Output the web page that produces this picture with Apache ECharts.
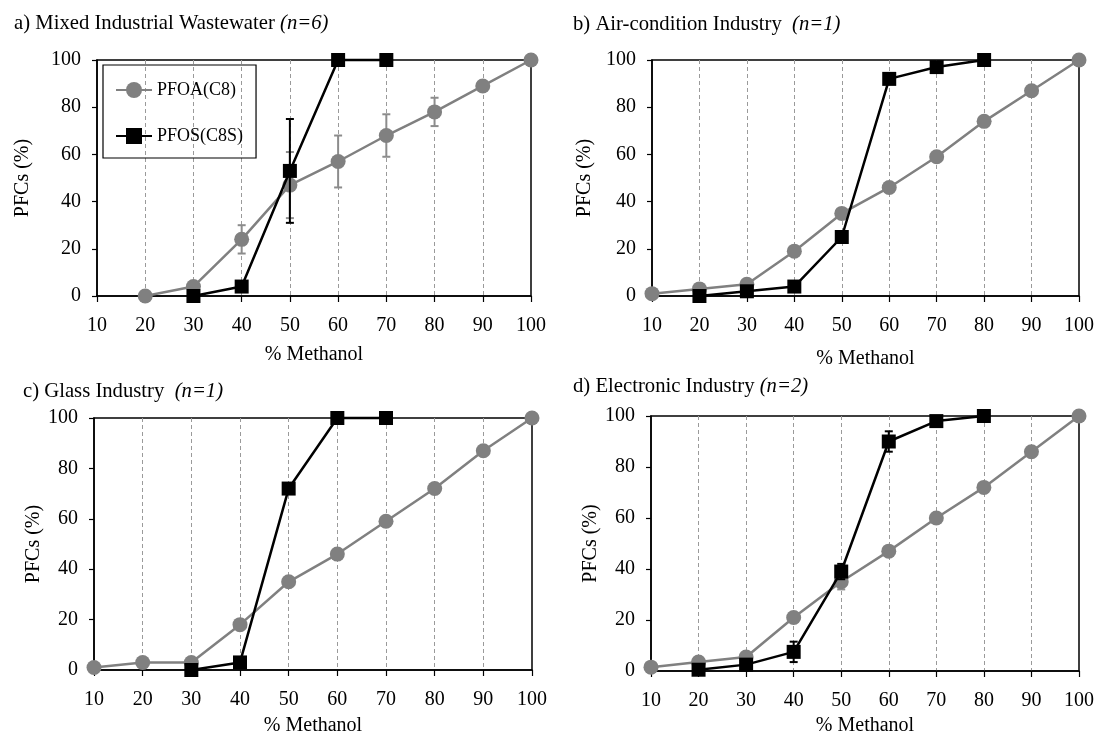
<!DOCTYPE html>
<html>
<head>
<meta charset="utf-8">
<title>PFCs vs % Methanol</title>
<script src="https://cdn.jsdelivr.net/npm/echarts@6/dist/echarts.min.js"></script>
<style>
  html, body { margin: 0; padding: 0; background: #fff; }
  #chart { width: 1097px; height: 737px; }
</style>
</head>
<body>
<div id="chart"></div>
<script>
// % methanol steps (x axis)
var methanol = [10, 20, 30, 40, 50, 60, 70, 80, 90, 100];
var yTicks = [0, 20, 40, 60, 80, 100];

var panelTitles = ['a) Mixed Industrial Wastewater ', 'b) Air-condition Industry  ', 'c) Glass Industry  ', 'd) Electronic Industry '];
var panelN = ['(n=6)', '(n=1)', '(n=1)', '(n=2)'];
var seriesNames = ['PFOA(C8)', 'PFOS(C8S)'];

// a) Mixed Industrial Wastewater
var pfoaA    = [null, 0, 4, 24, 47, 57, 68, 78, 89, 100];
var pfoaErrA = [null, 0, 1, 6, 14, 11, 9, 6, 2, 0];
var pfosA    = [null, null, 0, 4, 53, 100, 100, null, null, null];
var pfosErrA = [null, null, 0, 0, 22, 0, 0, null, null, null];

// b) Air-condition Industry
var pfoaB = [1, 3, 5, 19, 35, 46, 59, 74, 87, 100];
var pfosB = [null, 0, 2, 4, 25, 92, 97, 100, null, null];

// c) Glass Industry
var pfoaC = [1, 3, 3, 18, 35, 46, 59, 72, 87, 100];
var pfosC = [null, null, 0, 3, 72, 100, 100, null, null, null];

// d) Electronic Industry
var pfoaD    = [1.5, 3.5, 5.5, 21, 35, 47, 60, 72, 86, 100];
var pfoaErrD = [0, 0, 0, 0, 3, 1, 0, 0, 0, 0];
var pfosD    = [null, 0.5, 2.5, 7.5, 39, 90, 98, 100, null, null];
var pfosErrD = [null, 0, 0, 4, 3, 4, 2, 0, null, null];

var pfoaAll = [pfoaA, pfoaB, pfoaC, pfoaD];
var pfosAll = [pfosA, pfosB, pfosC, pfosD];
var pfoaErrAll = [pfoaErrA, null, null, pfoaErrD];
var pfosErrAll = [pfosErrA, null, null, pfosErrD];

var FONT = 'Liberation Serif';
var GRAY = '#808080';

var grids = [
  {left: 97, top: 60, width: 434, height: 236},
  {left: 652, top: 60, width: 428, height: 236},
  {left: 94, top: 418, width: 438, height: 256},
  {left: 651, top: 416, width: 428, height: 256}
];
var titlePos = [[14, 13], [573, 14], [23, 381], [573, 376]];
var xNameGap = [49, 53, 46, 45];
var yNameGap = [64, 57, 48, 46];

function toPairs(vals) {
  var out = [];
  vals.forEach(function (v, i) {
    if (v != null) out.push([methanol[i], v]);
  });
  return out;
}
function toErr(vals, errs) {
  var out = [];
  if (!errs) return out;
  vals.forEach(function (v, i) {
    if (v != null && errs[i]) out.push([methanol[i], v - errs[i], v + errs[i]]);
  });
  return out;
}

function errorBar(params, api) {
  var x = api.value(0);
  var lo = api.coord([x, api.value(1)]);
  var hi = api.coord([x, api.value(2)]);
  var cap = 4;
  var style = {stroke: api.visual('color'), lineWidth: 2};
  return {
    type: 'group',
    children: [
      {type: 'line', shape: {x1: lo[0], y1: lo[1], x2: hi[0], y2: hi[1]}, style: style},
      {type: 'line', shape: {x1: lo[0] - cap, y1: lo[1], x2: lo[0] + cap, y2: lo[1]}, style: style},
      {type: 'line', shape: {x1: hi[0] - cap, y1: hi[1], x2: hi[0] + cap, y2: hi[1]}, style: style}
    ]
  };
}

var option = {
  backgroundColor: '#fff',
  animation: false,
  textStyle: {fontFamily: FONT},
  title: [],
  legend: {
    data: seriesNames,
    orient: 'vertical',
    left: 103,
    top: 65,
    padding: [16, 13, 13, 12],
    itemGap: 28,
    itemWidth: 36,
    itemHeight: 20,
    borderColor: '#000',
    borderWidth: 1.2,
    textStyle: {fontFamily: FONT, fontSize: 18, color: '#000'}
  },
  grid: [],
  xAxis: [],
  yAxis: [],
  series: []
};

grids.forEach(function (g, k) {
  option.title.push({
    left: titlePos[k][0],
    top: titlePos[k][1],
    text: '{r|' + panelTitles[k] + '}{i|' + panelN[k] + '}',
    padding: 0,
    textStyle: {
      fontWeight: 'normal',
      rich: {
        r: {fontFamily: FONT, fontSize: 20.7, fontWeight: 'normal', color: '#000'},
        i: {fontFamily: FONT, fontSize: 20.7, fontWeight: 'normal', fontStyle: 'italic', color: '#000'}
      }
    }
  });
  option.grid.push({
    left: g.left, top: g.top, width: g.width, height: g.height,
    show: true, borderColor: '#000', borderWidth: 1.5
  });
  option.xAxis.push({
    type: 'value', gridIndex: k,
    min: methanol[0], max: methanol[methanol.length - 1], interval: 10,
    name: '% Methanol', nameLocation: 'middle', nameGap: xNameGap[k],
    nameTextStyle: {fontFamily: FONT, fontSize: 20, color: '#000'},
    axisLine: {lineStyle: {color: '#000', width: 1.5}},
    axisTick: {length: 6, lineStyle: {color: '#000', width: 1.2}},
    axisLabel: {fontFamily: FONT, fontSize: 20, color: '#000', margin: 20},
    splitLine: {
      show: true, showMinLine: false, showMaxLine: false,
      lineStyle: {color: '#9a9a9a', width: 1, type: [4, 3]}
    }
  });
  option.yAxis.push({
    type: 'value', gridIndex: k,
    min: yTicks[0], max: yTicks[yTicks.length - 1], interval: 20,
    name: 'PFCs (%)', nameLocation: 'middle', nameGap: yNameGap[k],
    nameTextStyle: {fontFamily: FONT, fontSize: 20, color: '#000'},
    axisLine: {show: true, lineStyle: {color: '#000', width: 1.5}},
    axisTick: {show: true, length: 5, lineStyle: {color: '#000', width: 1.2}},
    axisLabel: {fontFamily: FONT, fontSize: 20, color: '#000', margin: 16},
    splitLine: {show: false}
  });

  option.series.push({
    name: 'PFOA err', type: 'custom', xAxisIndex: k, yAxisIndex: k,
    renderItem: errorBar, itemStyle: {color: '#8c8c8c'},
    encode: {x: 0, y: [1, 2]}, z: 1,
    data: toErr(pfoaAll[k], pfoaErrAll[k])
  });
  option.series.push({
    name: seriesNames[0], type: 'line', xAxisIndex: k, yAxisIndex: k,
    symbol: 'circle', symbolSize: 15, clip: false, z: 2,
    lineStyle: {color: GRAY, width: 2.5},
    itemStyle: {color: GRAY},
    data: toPairs(pfoaAll[k])
  });
  option.series.push({
    name: 'PFOS err', type: 'custom', xAxisIndex: k, yAxisIndex: k,
    renderItem: errorBar, itemStyle: {color: '#000'},
    encode: {x: 0, y: [1, 2]}, z: 3,
    data: toErr(pfosAll[k], pfosErrAll[k])
  });
  option.series.push({
    name: seriesNames[1], type: 'line', xAxisIndex: k, yAxisIndex: k,
    symbol: 'rect', symbolSize: 14, clip: false, z: 4,
    lineStyle: {color: '#000', width: 2.5},
    itemStyle: {color: '#000'},
    data: toPairs(pfosAll[k])
  });
});

var myChart = echarts.init(document.getElementById('chart'));
myChart.setOption(option);
window.addEventListener('resize', function () {
  myChart.resize();
});
</script>
</body>
</html>
